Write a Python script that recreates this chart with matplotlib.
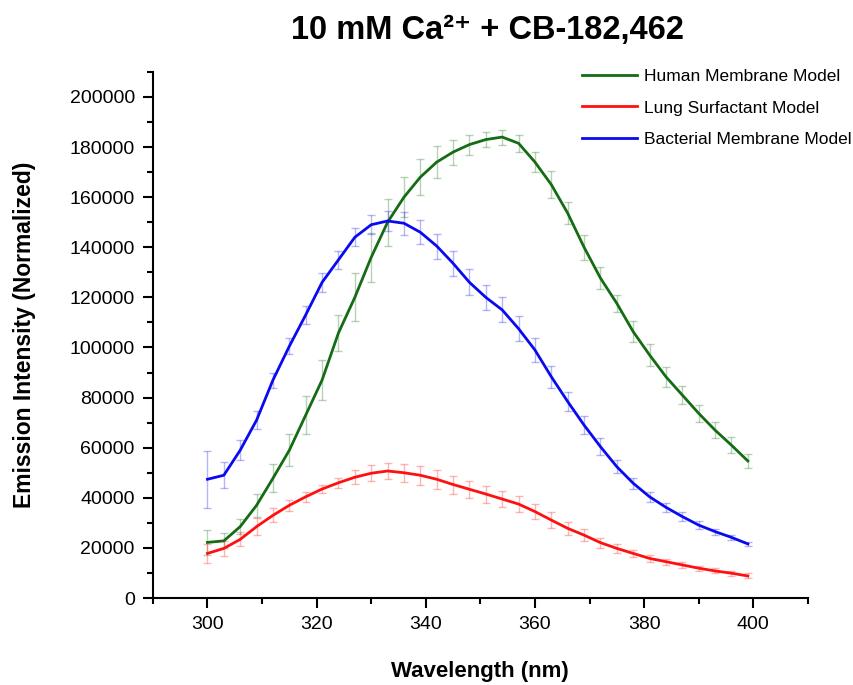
import numpy as np
import matplotlib
matplotlib.use("Agg")
import matplotlib.pyplot as plt
from matplotlib.ticker import MultipleLocator

plt.rcParams['font.family'] = ['Liberation Sans', 'DejaVu Sans']

# wavelength grid, 300..399 nm every 3 nm
wavelength = np.arange(300, 400, 3)

human = [22200, 22800, 28500, 37000, 47800, 59000, 73000, 87000, 105800, 120000,
         136000, 150000, 160000, 168000, 174000, 178000, 181000, 183000, 184000, 181500,
         174000, 165000, 153600, 140000, 127700, 117600, 106300, 97000, 88300, 81000,
         73700, 67000, 61000, 54700]
human_err = [5000, 3000, 3000, 4500, 5600, 6300, 7500, 8000, 7300, 9600,
             9800, 9300, 8000, 7300, 6500, 5000, 4000, 3000, 3000, 3300,
             4000, 5300, 4500, 4900, 4500, 3300, 4200, 4200, 4100, 3700,
             3500, 3300, 3200, 2900]

lung = [17800, 19800, 23400, 28500, 33000, 37000, 40400, 43500, 46000, 48200,
        49800, 50700, 50000, 49000, 47400, 45300, 43400, 41500, 39500, 37500,
        34500, 31100, 27800, 25100, 22100, 19800, 17800, 15800, 14500, 13200,
        11900, 10800, 9900, 8800]
lung_err = [3900, 3100, 2800, 3500, 2800, 2100, 2000, 1700, 2100, 2700,
            3200, 3200, 3500, 3700, 3800, 3600, 3500, 3400, 3300, 3300,
            3000, 3100, 2700, 2300, 2000, 1700, 1500, 1300, 1200, 1200,
            1000, 1000, 1000, 1000]

bacterial = [47400, 49000, 59000, 71000, 87000, 100500, 113000, 126000, 135000, 144000,
             149000, 150500, 149600, 146000, 140500, 133600, 126000, 120000, 115000, 107500,
             99000, 88300, 78400, 69000, 60400, 52400, 45800, 40400, 36200, 32500,
             29100, 26500, 24200, 21600]
bacterial_err = [11300, 5100, 4000, 3700, 3000, 3200, 3500, 3700, 3700, 3500,
                 3700, 3800, 4500, 4700, 5000, 5000, 5200, 5000, 5000, 5000,
                 4700, 4300, 3900, 3700, 3300, 2500, 2200, 2000, 1900, 1700,
                 1500, 1200, 1100, 900]

series = [
    ("Human Membrane Model", human, human_err, "#146c14"),
    ("Lung Surfactant Model", lung, lung_err, "#ff1010"),
    ("Bacterial Membrane Model", bacterial, bacterial_err, "#0a0af0"),
]

fig = plt.figure(figsize=(8.54, 6.85), dpi=100)
ax = fig.add_axes([0.179, 0.127, 0.767, 0.768])

for name, vals, err, col in series:
    ax.errorbar(wavelength, vals, yerr=err, fmt='none', ecolor=col, alpha=0.3,
                elinewidth=1, capsize=3, capthick=1)
    ax.plot(wavelength, vals, color=col, lw=2, label=name)

ax.set_xlim(290, 410)
ax.set_ylim(0, 210000)
ax.xaxis.set_major_locator(MultipleLocator(20))
ax.xaxis.set_minor_locator(MultipleLocator(10))
ax.yaxis.set_major_locator(MultipleLocator(20000))
ax.yaxis.set_minor_locator(MultipleLocator(10000))
ax.set_xticks(range(300, 401, 20))

ax.spines['top'].set_visible(False)
ax.spines['right'].set_visible(False)
for s in ['left', 'bottom']:
    ax.spines[s].set_linewidth(1.5)
ax.tick_params(which='major', direction='out', length=7, width=1.5, labelsize=14, pad=6)
ax.tick_params(which='minor', direction='out', length=4, width=1.5)

ax.set_xlabel("Wavelength (nm)", fontsize=16, fontweight='bold', labelpad=20)
ax.set_ylabel("Emission Intensity (Normalized)", fontsize=16.5, fontweight='bold', labelpad=24)
fig.text(0.571, 0.956, "10 mM Ca²⁺ + CB-182,462", fontsize=23.5, fontweight='bold',
         ha='center', va='center')

ax.legend(loc='upper right', frameon=False, fontsize=12.5, handlelength=3.2,
          handletextpad=0.4, borderaxespad=0, borderpad=0,
          bbox_to_anchor=(1.067, 1.006), labelspacing=0.95)

fig.savefig("out.png", dpi=100)
